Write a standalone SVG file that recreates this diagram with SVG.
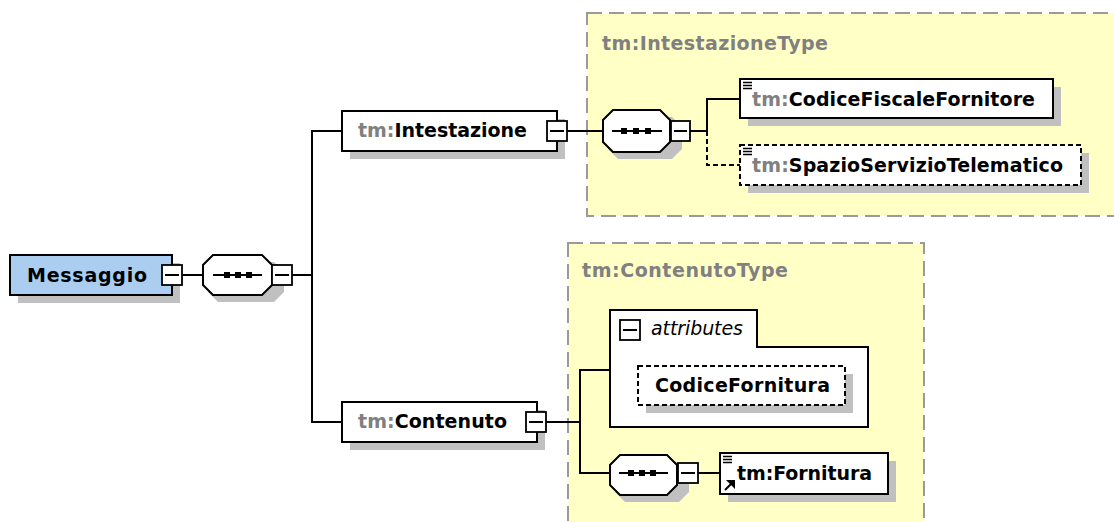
<svg xmlns="http://www.w3.org/2000/svg" width="1114" height="522" viewBox="0 0 1114 522">
<defs>
<style>
.bg{fill:#ffffc6;stroke:#9a9a9a;stroke-width:2;stroke-dasharray:15,7}
.sh{fill:#c0c0c0}
.box{fill:#ffffff;stroke:#000;stroke-width:2}
.opt{fill:#ffffff;stroke:#000;stroke-width:2;stroke-dasharray:5,3}
.btn{fill:#ffffff;stroke:#000;stroke-width:1.8}
.ln{fill:none;stroke:#000;stroke-width:2}
.dl{fill:none;stroke:#000;stroke-width:2;stroke-dasharray:5,3}
.ic{fill:none;stroke:#000;stroke-width:1.6}
.t{font-family:"DejaVu Sans",Verdana,sans-serif;font-size:19px;font-weight:bold;fill:#000}
.g{fill:#808080}
.it{font-family:"DejaVu Sans",Verdana,sans-serif;font-size:19px;font-style:italic;fill:#000}
</style>
</defs>
<rect width="1114" height="522" fill="#ffffff"/>

<g id="IntestazioneType">
<rect class="bg" x="587" y="13" width="540" height="203"/>
<text class="t g" x="602" y="50" textLength="226" lengthAdjust="spacing">tm:IntestazioneType</text>
</g>
<g id="ContenutoType">
<rect class="bg" x="568" y="243" width="356" height="300"/>
<text class="t g" x="582" y="277" textLength="206" lengthAdjust="spacing">tm:ContenutoType</text>
</g>

<g id="connectors">
<path class="ln" d="M182,275 H203"/>
<path class="ln" d="M292,275 H312"/>
<path class="ln" d="M312,131 V422"/>
<path class="ln" d="M311,131 H342"/>
<path class="ln" d="M311,422 H342"/>
<path class="ln" d="M567,131 H603"/>
<path class="ln" d="M690,131 H707 V99 H740"/>
<path class="dl" d="M707,131 V165 H740"/>
<path class="ln" d="M546,422 H580"/>
<path class="ln" d="M580,370 V473"/>
<path class="ln" d="M579,370 H610"/>
<path class="ln" d="M579,473 H610"/>
<path class="ln" d="M698,473 H720"/>
</g>

<g id="Messaggio">
<rect class="sh" x="18" y="263" width="162" height="40"/>
<rect x="10" y="255" width="162" height="40" fill="#abcdf0" stroke="#000" stroke-width="2"/>
<text class="t" x="27" y="282" textLength="120" lengthAdjust="spacing">Messaggio</text>
<rect class="btn" x="162" y="265" width="20" height="20"/>
<path class="ln" d="M165,275 H179"/>
</g>

<g id="seq1">
<path class="sh" d="M218,262 H274 L284,272 V292 L274,302 H218 L208,292 V272 Z"/>
<path class="box" d="M213,255 H262 L272,265 V285 L262,295 H213 L203,285 V265 Z"/>
<path class="ln" d="M213,275 H262"/>
<rect x="224" y="272" width="6" height="6" fill="#000"/>
<rect x="235" y="272" width="6" height="6" fill="#000"/>
<rect x="246" y="272" width="6" height="6" fill="#000"/>
<rect class="btn" x="272" y="265" width="20" height="20"/>
<path class="ln" d="M275,275 H289"/>
</g>

<g id="Intestazione">
<rect class="sh" x="350" y="119" width="215" height="40"/>
<rect class="box" x="342" y="111" width="215" height="40"/>
<text class="t" x="358" y="137" textLength="169" lengthAdjust="spacing"><tspan class="g">tm:</tspan>Intestazione</text>
<rect class="btn" x="547" y="121" width="20" height="20"/>
<path class="ln" d="M550,131 H564"/>
</g>

<g id="seq2">
<path class="sh" d="M618,117 H672 L682,127 V149 L672,159 H618 L608,149 V127 Z"/>
<path class="box" d="M613,110 H660 L670,120 V142 L660,152 H613 L603,142 V120 Z"/>
<path class="ln" d="M612,131 H662"/>
<rect x="621" y="128" width="6" height="6" fill="#000"/>
<rect x="633" y="128" width="6" height="6" fill="#000"/>
<rect x="645" y="128" width="6" height="6" fill="#000"/>
<rect class="btn" x="671" y="121" width="19" height="20"/>
<path class="ln" d="M674,131 H687"/>
</g>

<g id="CodiceFiscaleFornitore">
<rect class="sh" x="748" y="87" width="313" height="39"/>
<rect class="box" x="740" y="79" width="313" height="39"/>
<path class="ic" d="M743,82.5 H752 M743,85.5 H752 M743,88.5 H752"/>
<text class="t" x="752" y="106" textLength="283" lengthAdjust="spacing"><tspan class="g">tm:</tspan>CodiceFiscaleFornitore</text>
</g>

<g id="SpazioServizioTelematico">
<rect class="sh" x="748" y="153" width="341" height="40"/>
<rect class="opt" x="740" y="145" width="341" height="40"/>
<path class="ic" d="M743,148.5 H752 M743,151.5 H752 M743,154.5 H752"/>
<text class="t" x="752" y="172" textLength="311" lengthAdjust="spacing"><tspan class="g">tm:</tspan>SpazioServizioTelematico</text>
</g>

<g id="Contenuto">
<rect class="sh" x="350" y="410" width="195" height="40"/>
<rect class="box" x="342" y="402" width="195" height="40"/>
<text class="t" x="358" y="428" textLength="149" lengthAdjust="spacing"><tspan class="g">tm:</tspan>Contenuto</text>
<rect class="btn" x="526" y="412" width="20" height="20"/>
<path class="ln" d="M529,422 H543"/>
</g>

<g id="attributes">
<path class="box" d="M610,310 H757 V347 H868 V427 H610 Z"/>
<rect class="btn" x="620" y="320" width="20" height="20"/>
<path class="ln" d="M623,330 H637"/>
<text class="it" x="651" y="335" textLength="92" lengthAdjust="spacing">attributes</text>
</g>

<g id="CodiceFornitura">
<rect class="sh" x="646" y="374" width="207" height="39"/>
<rect class="opt" x="638" y="366" width="207" height="39"/>
<text class="t" x="655" y="392" textLength="175" lengthAdjust="spacing">CodiceFornitura</text>
</g>

<g id="seq3">
<path class="sh" d="M625,462 H679 L689,472 V492 L679,502 H625 L615,492 V472 Z"/>
<path class="box" d="M620,455 H667 L677,465 V485 L667,495 H620 L610,485 V465 Z"/>
<path class="ln" d="M619,473 H668"/>
<rect x="628" y="470" width="6" height="6" fill="#000"/>
<rect x="639" y="470" width="6" height="6" fill="#000"/>
<rect x="650" y="470" width="6" height="6" fill="#000"/>
<rect class="btn" x="678" y="463" width="20" height="20"/>
<path class="ln" d="M681,473 H695"/>
</g>

<g id="Fornitura">
<rect class="sh" x="728" y="461" width="168" height="41"/>
<rect class="box" x="720" y="453" width="168" height="41"/>
<path class="ic" d="M723,456.5 H732 M723,459.5 H732 M723,462.5 H732"/>
<path class="ln" d="M725,490 L731,484" stroke-width="2.4"/>
<path d="M726,480 H735 V489 Z" fill="#000"/>
<text class="t" x="737" y="480" textLength="135" lengthAdjust="spacing">tm:Fornitura</text>
</g>
</svg>
